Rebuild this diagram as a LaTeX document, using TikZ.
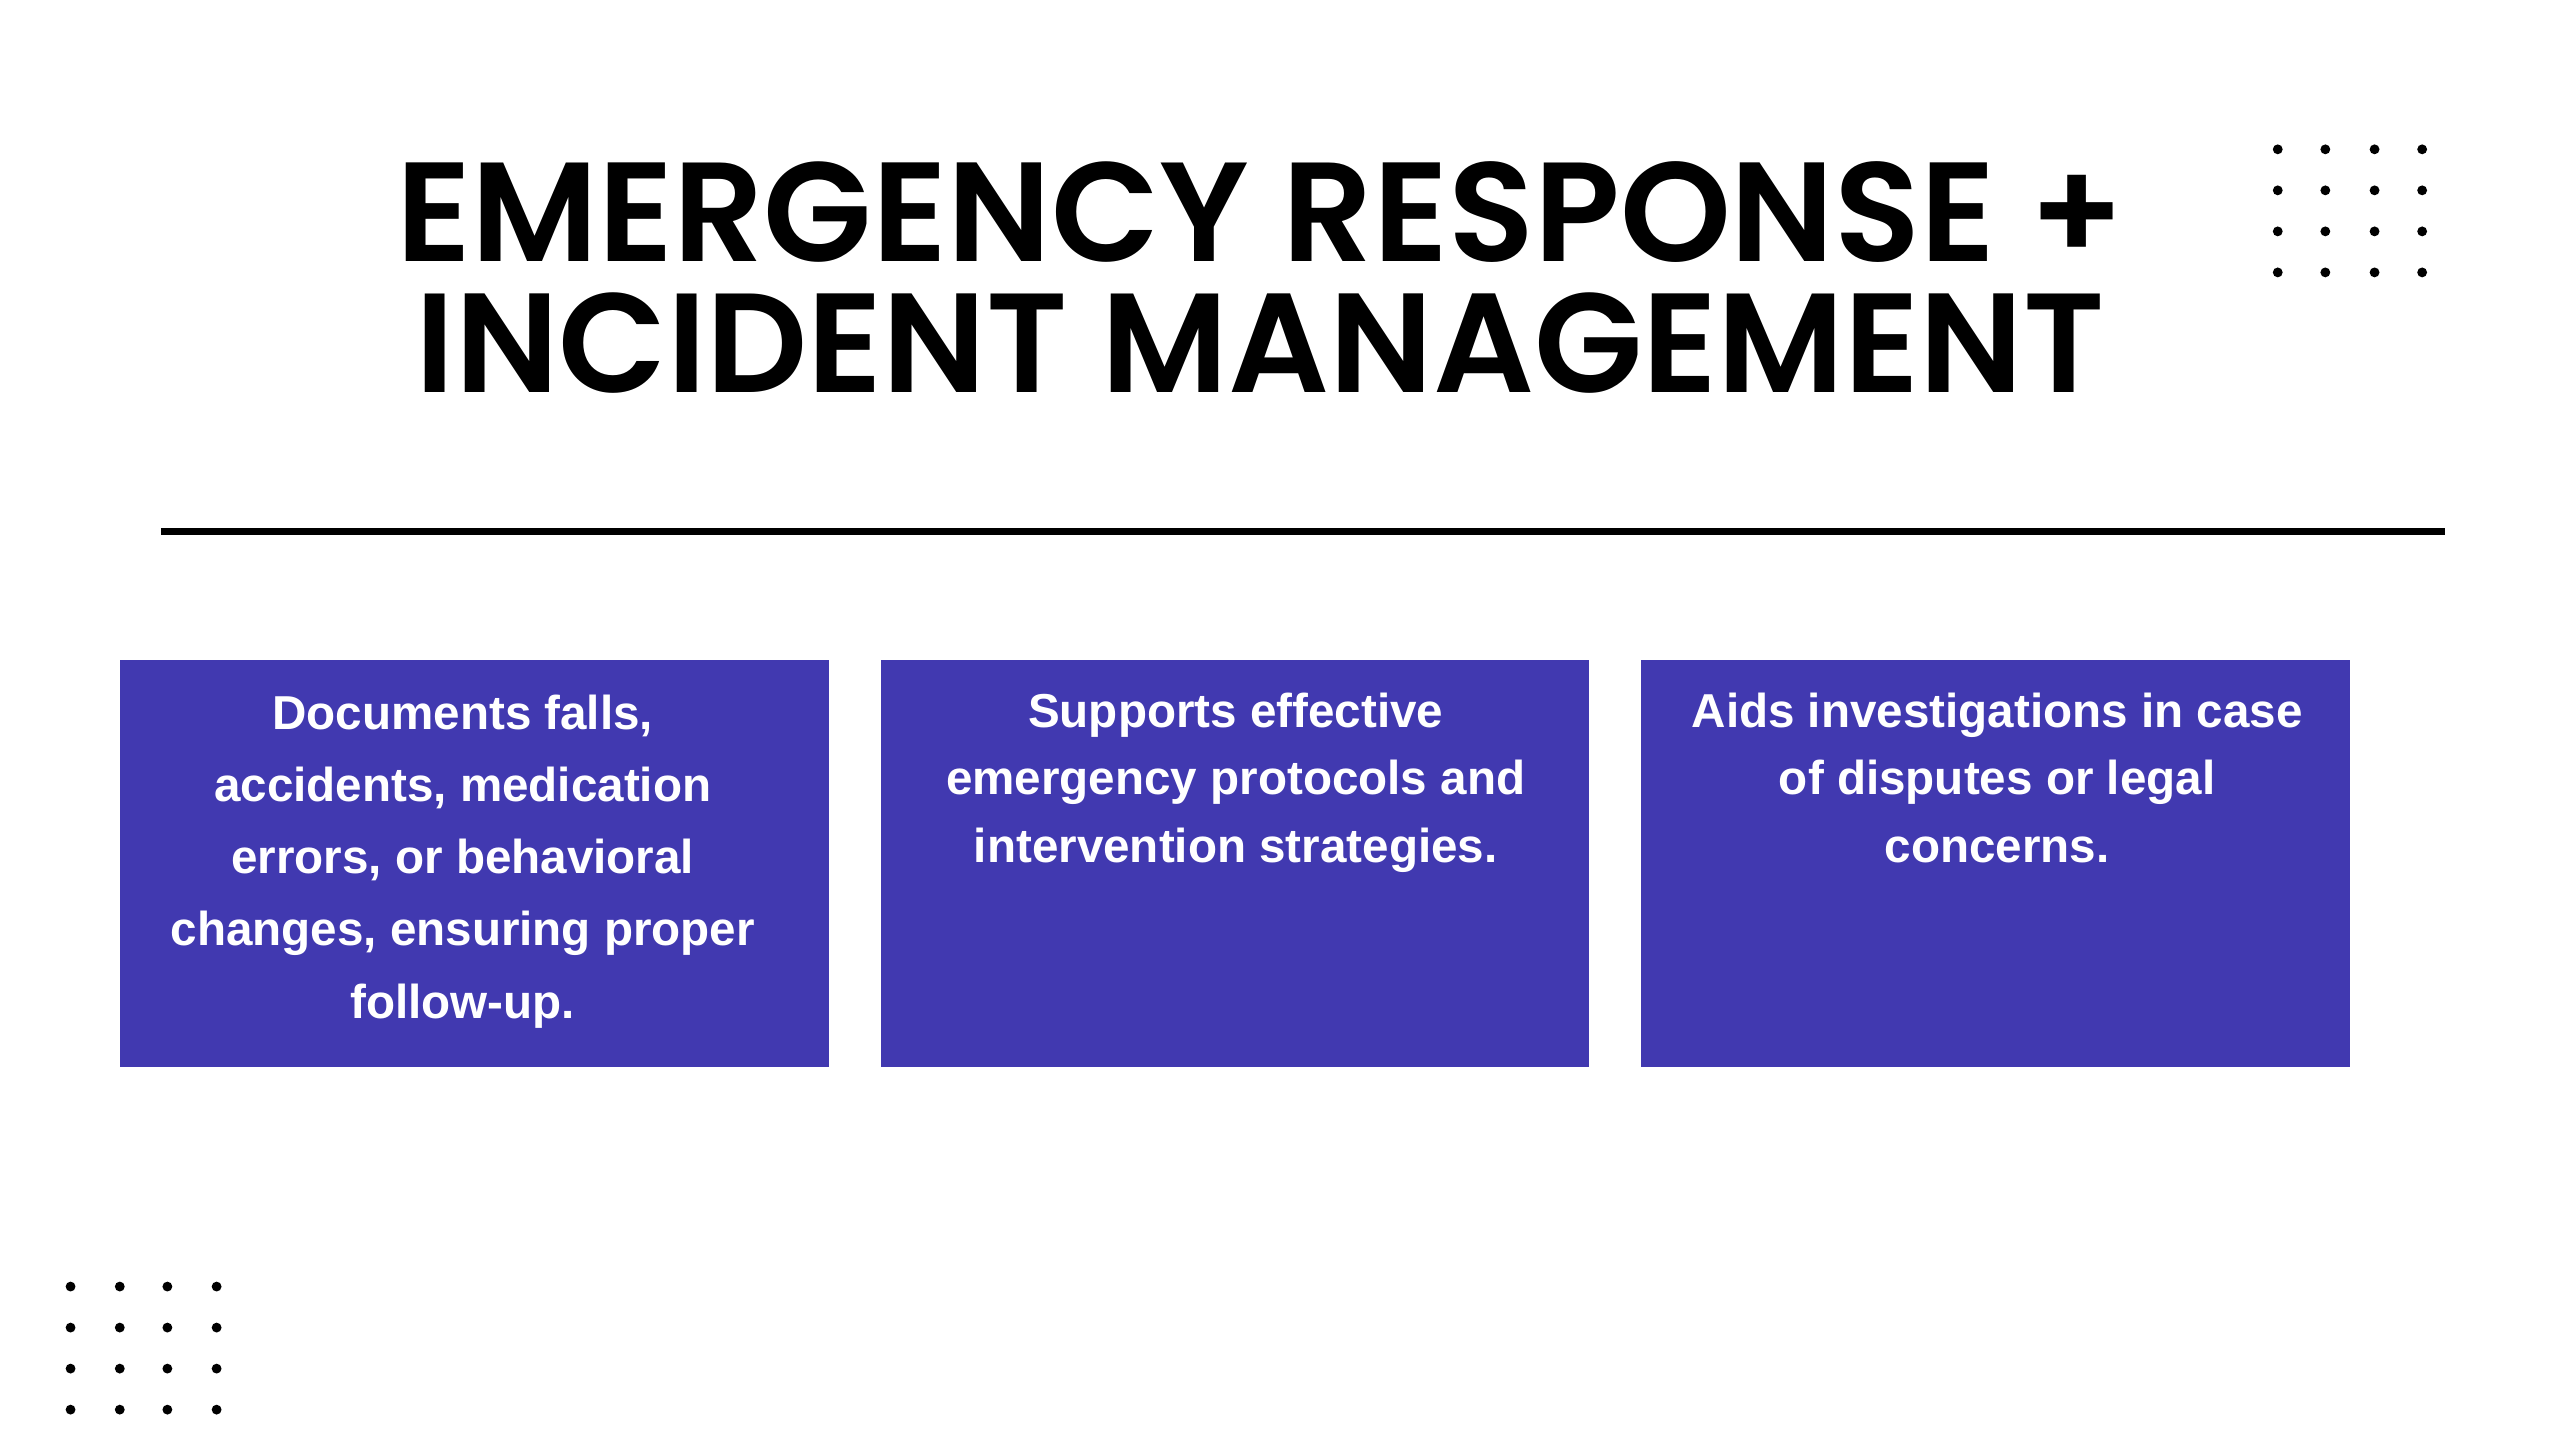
\documentclass[tikz,border=0pt]{standalone}
\usepackage{fontspec}
\setmainfont{Liberation Sans}
\newfontfamily\titlefont{Poppins SemiBold}
\definecolor{boxblue}{HTML}{4139B0}
\begin{document}
\begin{tikzpicture}[x=0.5pt,y=-0.5pt,
  card/.style={fill=boxblue,draw=none},
  ctext/.style={text=white,font=\bfseries\fontsize{14.5}{22}\selectfont,align=center,anchor=north,inner sep=0},
  dot/.style={fill=black,draw=none}]
\useasboundingbox (0,0) rectangle (1560,877);
\fill[white] (0,0) rectangle (1560,877);
\node[font=\titlefont\fontsize{43}{40}\selectfont,align=center,inner sep=0,anchor=north] (title) at (768,98) {EMERGENCY RESPONSE +\\INCIDENT MANAGEMENT};
\coordinate (l1) at (98,324); \coordinate (l2) at (1490,324);
\draw[line width=2pt] (l1) -- (l2);
\path[card] (73,402) rectangle (505,650);
\path[card] (537,402) rectangle (968,650);
\path[card] (1000,402) rectangle (1432,650);
\node[ctext] (t1) at (282,423) {Documents falls,\\accidents, medication\\errors, or behavioral\\changes, ensuring proper\\follow-up.};
\node[ctext,font=\bfseries\fontsize{14.5}{20.5}\selectfont] (t2) at (753,422) {Supports effective\\emergency protocols and\\intervention strategies.};
\node[ctext,font=\bfseries\fontsize{14.5}{20.5}\selectfont] (t3) at (1217,422) {Aids investigations in case\\of disputes or legal\\concerns.};
\foreach \x in {1388,1417,1447,1476} \foreach \y in {91,116,141,166} \fill[dot] (\x,\y) circle (3);
\foreach \x in {43,73,102,132} \foreach \y in {784,809,834,859} \fill[dot] (\x,\y) circle (3);
\end{tikzpicture}
\end{document}
